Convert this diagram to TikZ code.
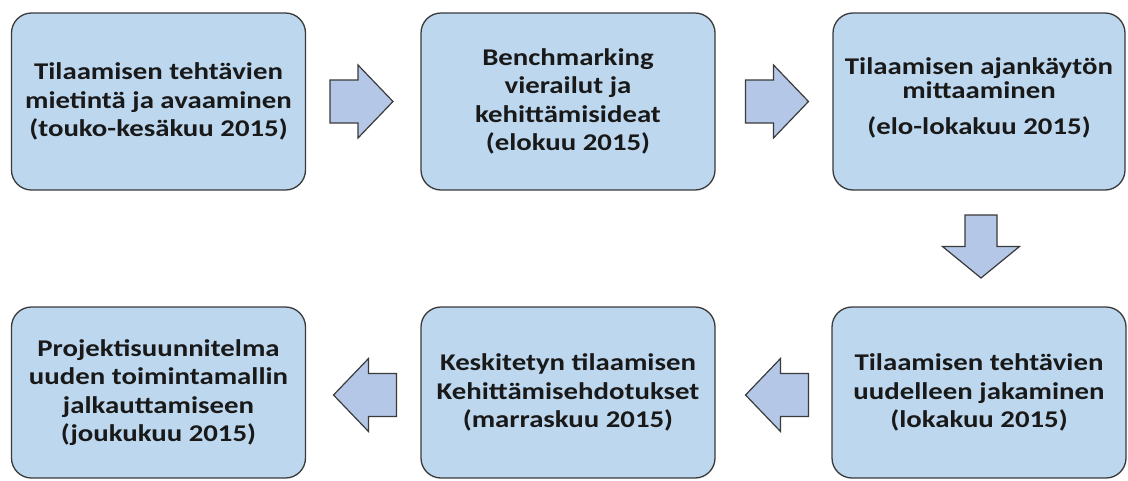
\documentclass[tikz,border=0pt]{standalone}
\usepackage{fontspec}
\setmainfont{Carlito}[FakeStretch=1.2]
\usepackage{xcolor}
\definecolor{boxblue}{HTML}{BDD7EE}
\definecolor{arrowblue}{HTML}{B4C7E7}
\definecolor{edgegray}{HTML}{3A3A3A}
\tikzset{
  stepbox/.style={rectangle,rounded corners=20pt,draw=edgegray,line width=1.3pt,fill=boxblue,
    minimum width=294pt,minimum height=177pt,align=center,text=black!90,
    font=\fontsize{24}{28.5}\selectfont\bfseries},
  arrowbody/.style={draw=edgegray,line width=1.2pt,fill=arrowblue,line join=miter},
  widearrow/.pic={\draw[arrowbody] (-31.5,-21.5) -- (-3.5,-21.5) -- (-3.5,-36.5) -- (31.5,0)
    -- (-3.5,36.5) -- (-3.5,21.5) -- (-31.5,21.5) -- cycle;},
  narrowarrow/.pic={\draw[arrowbody] (-31.5,-16) -- (0,-16) -- (0,-38.5) -- (31.5,0)
    -- (0,38.5) -- (0,16) -- (-31.5,16) -- cycle;}
}
\begin{document}
\begin{tikzpicture}[x=1pt,y=-1pt]
\useasboundingbox (0,0) rectangle (1128,480);
\node[stepbox] (mietinta) at (158.5,101.5){Tilaamisen tehtävien\\mietintä ja avaaminen\\(touko-kesäkuu 2015)};
\node[stepbox] (benchmark) at (568,101.5){Benchmarking\\vierailut ja\\kehittämisideat\\(elokuu 2015)};
\node[stepbox,minimum width=292pt] (mittaus) at (979,101.5){Tilaamisen ajankäytön\\[-5pt]mittaaminen\\[8pt](elo-lokakuu 2015)\\[-18pt]};
\node[stepbox,minimum height=171pt] (jako) at (979,392.5){Tilaamisen tehtävien\\uudelleen jakaminen\\(lokakuu 2015)};
\node[stepbox,minimum height=171pt] (ehdotus) at (568,392.5){Keskitetyn tilaamisen\\Kehittämisehdotukset\\(marraskuu 2015)};
\node[stepbox,minimum height=171pt] (projekti) at (158.5,392.5){Projektisuunnitelma\\uuden toimintamallin\\jalkauttamiseen\\(joukukuu 2015)};
\pic at (361.5,101.5) {widearrow};
\pic at (777,101.5) {widearrow};
\pic[rotate=-90] at (981,246.5) {narrowarrow};
\pic[rotate=180] at (365,395) {widearrow};
\pic[rotate=180] at (777,395) {widearrow};
\end{tikzpicture}
\end{document}
